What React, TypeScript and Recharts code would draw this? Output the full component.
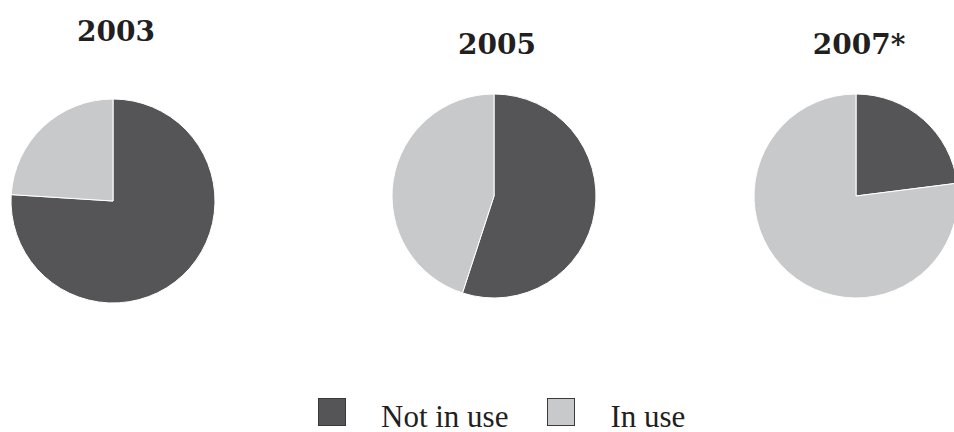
import React from 'react';
import { PieChart, Pie, Cell, Legend } from 'recharts';

const categories = ['Not in use', 'In use'];
const years = ['2003', '2005', '2007*'];
const values2003 = [76, 24];
const values2005 = [55, 45];
const values2007 = [23, 77];

const COLORS = ['#555557', '#c8c9cb'];

const series = [values2003, values2005, values2007].map((vals) =>
  vals.map((v, i) => ({ name: categories[i], value: v }))
);

// pie placement (pixels)
const layout = [
  { cx: 113, cy: 201, titleBase: 42 },
  { cx: 494, cy: 196, titleBase: 55 },
  { cx: 856, cy: 196, titleBase: 55 },
];

const LegendContent = () => (
  <div style={{ display: 'flex', alignItems: 'flex-start', position: 'relative', height: 31 }}>
    {categories.map((c, i) => (
      <div key={c} style={{ display: 'flex', alignItems: 'flex-start', marginLeft: i === 0 ? 318 : 39 }}>
        <div
          style={{
            width: 26,
            height: 26,
            marginTop: -3,
            background: COLORS[i],
            border: '1.5px solid #3a3a3c',
          }}
        />
        <span
          style={{
            marginLeft: 35,
            fontFamily: '"Liberation Serif", serif',
            fontSize: 31,
            lineHeight: '31px',
            color: '#231f20',
          }}
        >
          {c}
        </span>
      </div>
    ))}
  </div>
);

export default function App() {
  return (
    <div style={{ position: 'absolute', left: 0, top: 0, width: 954, height: 432, overflow: 'hidden', background: '#fff' }}>
      {years.map((y, i) => (
        <div
          key={y}
          style={{
            position: 'absolute',
            left: layout[i].cx + 3 - 100,
            width: 200,
            top: layout[i].titleBase - 24,
            textAlign: 'center',
            fontFamily: '"DejaVu Serif", serif',
            fontWeight: 'bold',
            fontSize: 28,
            lineHeight: '28px',
            color: '#231f20',
          }}
        >
          {y}
        </div>
      ))}
      <PieChart width={954} height={432} margin={{ top: 0, right: 0, bottom: 0, left: 0 }}>
        {series.map((d, i) => (
          <Pie
            key={years[i]}
            data={d}
            dataKey="value"
            nameKey="name"
            cx={layout[i].cx}
            cy={layout[i].cy}
            outerRadius={102}
            startAngle={90}
            endAngle={-270}
            stroke="#ffffff"
            strokeWidth={1}
            isAnimationActive={false}
          >
            {d.map((e, j) => (
              <Cell key={e.name} fill={COLORS[j]} />
            ))}
          </Pie>
        ))}
        <Legend
          content={<LegendContent />}
          wrapperStyle={{ position: 'absolute', left: 0, top: 401, width: 954 }}
        />
      </PieChart>
    </div>
  );
}
